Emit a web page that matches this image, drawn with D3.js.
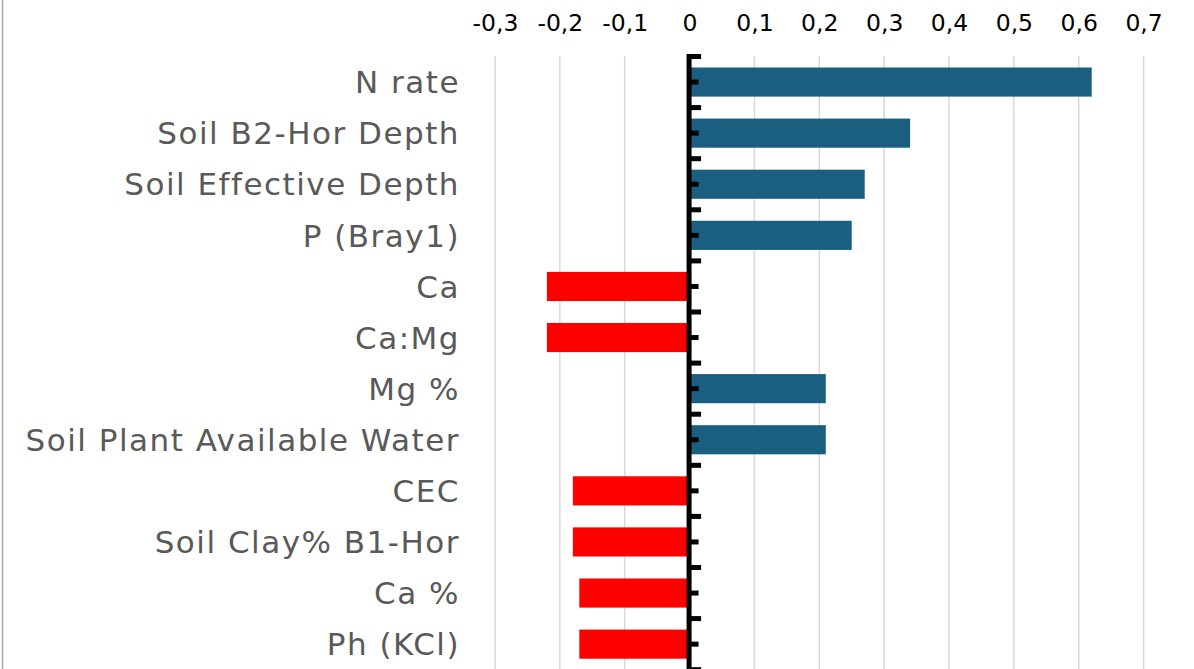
<!DOCTYPE html>
<html><head><meta charset="utf-8">
<script src="https://cdn.jsdelivr.net/npm/d3@7"></script>
<style>body{margin:0;background:#fff}svg{display:block}</style>
</head><body>
<script>
const categories = ["N rate","Soil B2-Hor Depth","Soil Effective Depth","P (Bray1)","Ca","Ca:Mg","Mg %","Soil Plant Available Water","CEC","Soil Clay% B1-Hor","Ca %","Ph (KCl)"];
const values = [0.62,0.34,0.27,0.25,-0.22,-0.22,0.21,0.21,-0.18,-0.18,-0.17,-0.17];
const tickValues = [-0.3,-0.2,-0.1,0,0.1,0.2,0.3,0.4,0.5,0.6,0.7];

const W=1194,H=669;
const svg=d3.select("body").append("svg").attr("width",W).attr("height",H);
svg.append("rect").attr("width",W).attr("height",H).attr("fill","#fff");
svg.append("line").attr("x1",2.5).attr("x2",2.5).attr("y1",0).attr("y2",H).attr("stroke","#a6a6a6").attr("stroke-width",1.5);

const x=d3.scaleLinear().domain([-0.3,0.7]).range([495,1143.6]);
const y=d3.scaleBand().domain(categories).range([56.5,669.7]).paddingInner(0.43).paddingOuter(0.215);
const yb=d3.scaleBand().domain(categories).range([56.5,669.7]);

svg.append("g").selectAll("line").data(tickValues.filter(d=>d!==0)).join("line")
 .attr("x1",d=>x(d)).attr("x2",d=>x(d)).attr("y1",56).attr("y2",H)
 .attr("stroke","#d9d9d9").attr("stroke-width",1.5);

const xAxis=d3.axisTop(x).tickValues(tickValues).tickSize(0).tickPadding(0)
 .tickFormat(d=>d===0?"0":String(d).replace(".",","));
const gx=svg.append("g").attr("transform","translate(0,31)").call(xAxis);
gx.select(".domain").remove();
gx.selectAll("text").attr("font-family","'DejaVu Sans', sans-serif").attr("font-size",23.5).attr("fill","#000").attr("dy","0");

svg.append("g").selectAll("rect").data(categories).join("rect")
 .attr("x",(d,i)=>values[i]>=0?x(0):x(values[i]))
 .attr("y",d=>y(d))
 .attr("width",(d,i)=>Math.abs(x(values[i])-x(0)))
 .attr("height",y.bandwidth())
 .attr("fill",(d,i)=>values[i]>=0?"#1a5e80":"#ff0000");

svg.append("g").selectAll("text").data(categories).join("text")
 .attr("x",460).attr("y",d=>yb(d)+yb.bandwidth()/2).attr("dy","0.36em")
 .attr("text-anchor","end").attr("font-family","'DejaVu Sans', sans-serif").attr("font-size",31)
 .attr("letter-spacing","1.5px")
 .attr("fill","#595959").text(d=>d);

const axisX=x(0);
const ga=svg.append("g");
ga.append("rect").attr("x",axisX-3).attr("y",54).attr("width",5).attr("height",H-54).attr("fill","#000");
const bounds=categories.map(c=>yb(c)).concat([yb.range()[1]]);
ga.selectAll(".maj").data(bounds).join("rect").attr("class","maj")
 .attr("x",axisX).attr("y",d=>d-2.5).attr("width",11.5).attr("height",5).attr("fill","#000");
ga.selectAll(".min").data(categories).join("rect").attr("class","min")
 .attr("x",axisX).attr("y",d=>yb(d)+yb.bandwidth()/2-2.5).attr("width",9).attr("height",5).attr("fill","#000");
</script>
</body></html>
